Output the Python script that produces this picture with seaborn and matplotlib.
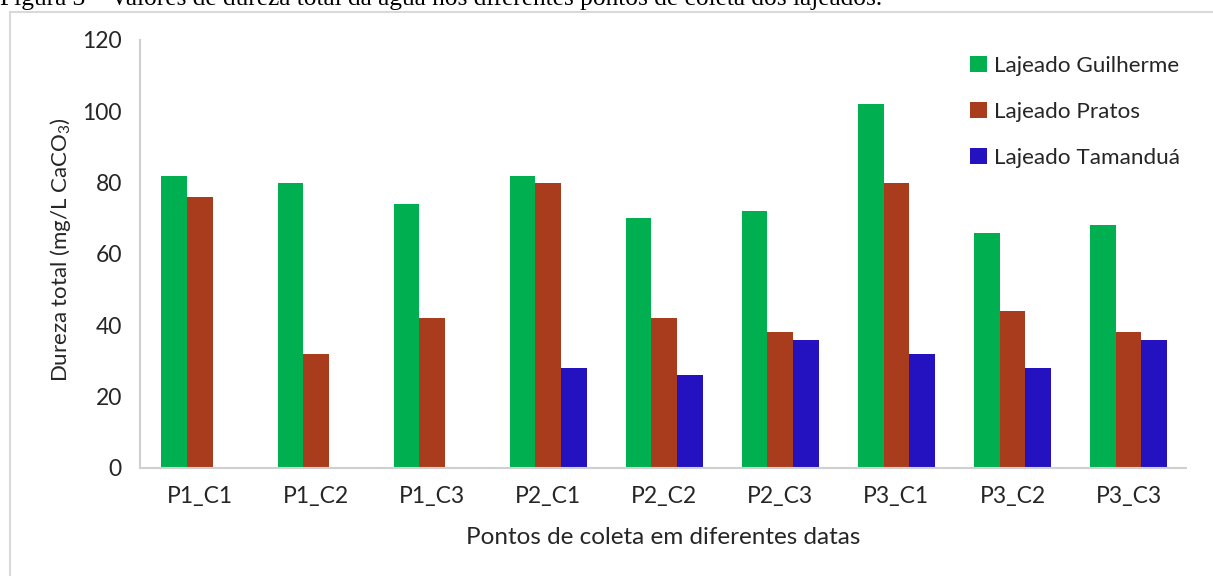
import matplotlib
matplotlib.use("Agg")
import matplotlib.pyplot as plt
import seaborn as sns
import pandas as pd
from matplotlib.patches import Rectangle

categories = ["P1_C1", "P1_C2", "P1_C3", "P2_C1", "P2_C2", "P2_C3", "P3_C1", "P3_C2", "P3_C3"]
guilherme = [82, 80, 74, 82, 70, 72, 102, 66, 68]
pratos = [76, 32, 42, 80, 42, 38, 80, 44, 38]
tamandua = [0, 0, 0, 28, 26, 36, 32, 28, 36]
series_names = ["Lajeado Guilherme", "Lajeado Pratos", "Lajeado Tamanduá"]
colors = ["#00B050", "#A93C1C", "#2412C0"]
yticks = [0, 20, 40, 60, 80, 100, 120]

rows = []
for name, vals in zip(series_names, [guilherme, pratos, tamandua]):
    for c, v in zip(categories, vals):
        rows.append({"ponto": c, "serie": name, "valor": v})
df = pd.DataFrame(rows)

sns.set_theme(style="white")
plt.rcParams["font.family"] = ["Lato", "DejaVu Sans"]
plt.rcParams["mathtext.fontset"] = "custom"
plt.rcParams["mathtext.rm"] = "Lato"
plt.rcParams["mathtext.it"] = "Lato:italic"

W, H = 1213, 576
fig = plt.figure(figsize=(W / 100, H / 100), dpi=100)
ax = fig.add_axes([140 / W, 1 - 468 / H, (1186 - 140) / W, (468 - 40) / H])

sns.barplot(data=df, x="ponto", y="valor", hue="serie", order=categories,
            hue_order=series_names, palette=colors, width=0.664, gap=0,
            saturation=1, ax=ax, errorbar=None, linewidth=0)

ax.set_xlim(-0.517, 8.495)
ax.set_ylim(0, 120)
ax.set_yticks(yticks)
ax.set_yticklabels([str(t) for t in yticks], fontsize=16.5, color="#262626")
ax.tick_params(axis="x", labelsize=16.5, colors="#262626", length=0, pad=13)
ax.tick_params(axis="y", length=0, pad=13)
for lab in ax.get_xticklabels():
    lab.set_color("#262626")
ax.set_xlabel("Pontos de coleta em diferentes datas", fontsize=17.5, color="#262626", labelpad=14)
ax.set_ylabel("")
fig.text(61 / W, 1 - 250 / H, r"Dureza total (mg/L CaCO$_3$)", fontsize=16, color="#262626",
         rotation=90, ha="center", va="center")
for s in ["top", "right"]:
    ax.spines[s].set_visible(False)
for s in ["left", "bottom"]:
    ax.spines[s].set_color("#D0D0D0")
    ax.spines[s].set_linewidth(1.5)
ax.grid(False)

leg = ax.legend(loc="upper left", bbox_to_anchor=(821 / 1046, 1.0 - 7 / 428), frameon=False,
                fontsize=16.2, handlelength=0.75, handleheight=0.75, handletextpad=0.3,
                labelspacing=1.15, borderaxespad=0)
for t in leg.get_texts():
    t.set_color("#262626")

# outer chart frame (cropped)
fig.patches.append(Rectangle((10 / W, -0.05), 1.1, (1 - 12 / H) + 0.05, transform=fig.transFigure,
                             fill=False, edgecolor="#D9D9D9", linewidth=1.5))

fig.text(0 / W, 1 - 5 / H, "Figura 3 – Valores de dureza total da água nos diferentes pontos de coleta dos lajeados.",
         family=["Liberation Serif"], fontsize=18.3, color="black", ha="left", va="baseline")

fig.savefig("out.png", dpi=100)
